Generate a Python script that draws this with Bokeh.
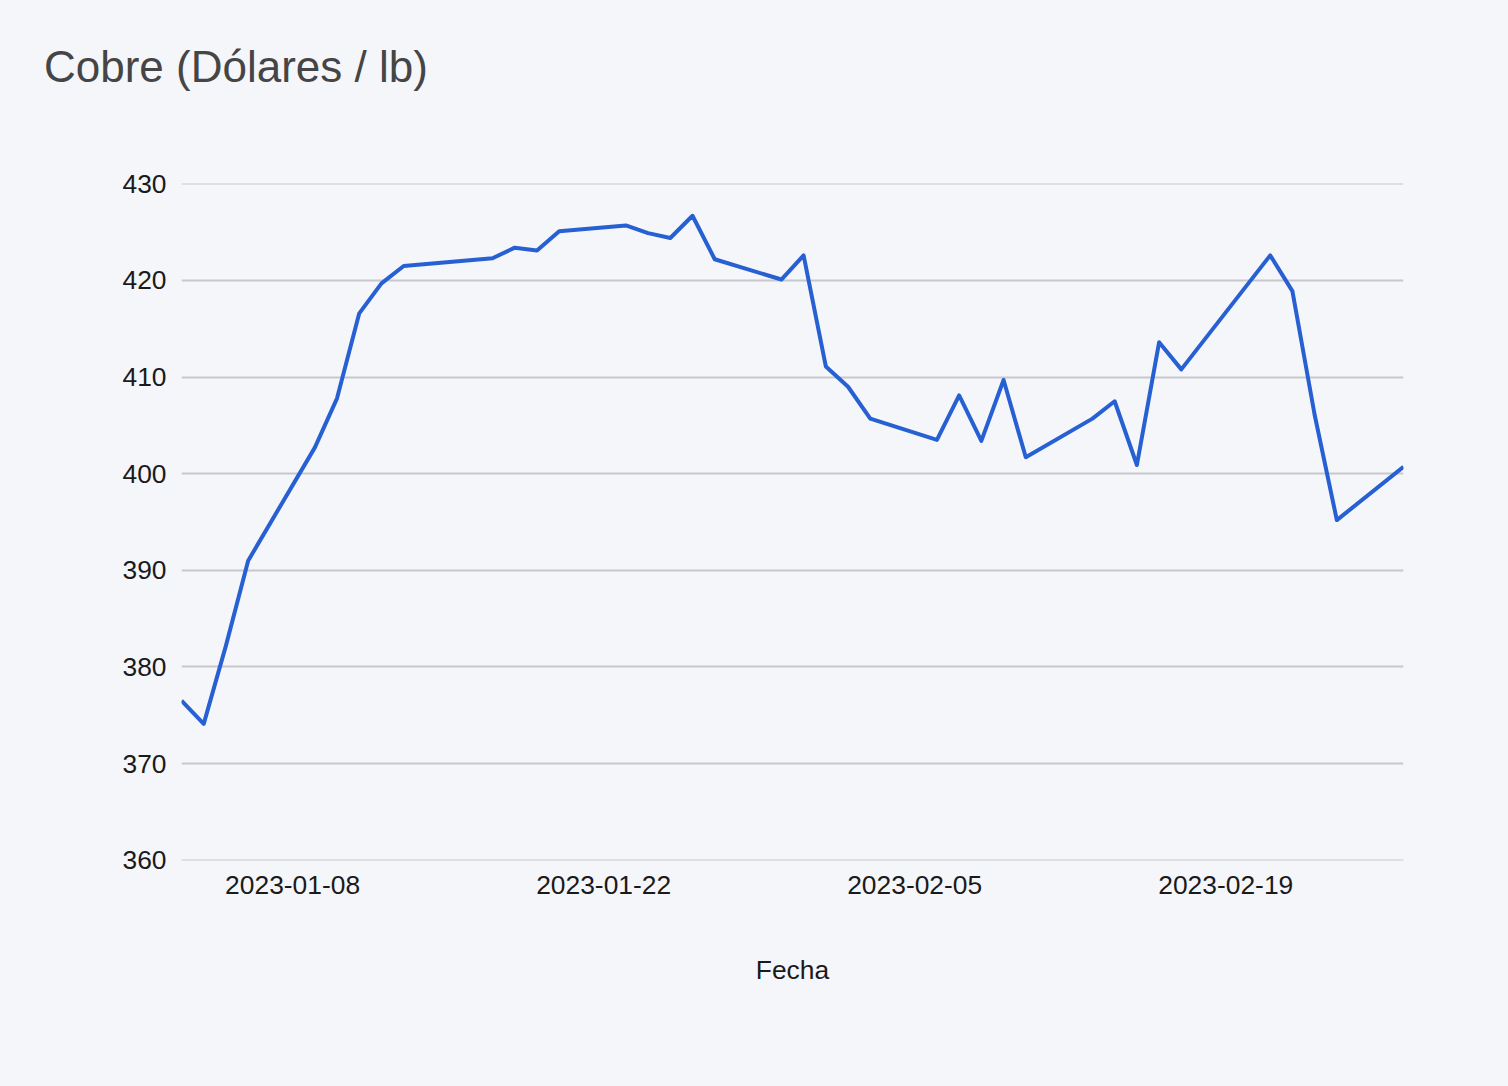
from datetime import datetime
from bokeh.plotting import figure
from bokeh.layouts import column
from bokeh.models import Range1d, FixedTicker, DatetimeTickFormatter, ColumnDataSource, Div
from bokeh.embed import file_html
from bokeh.resources import INLINE

# ---- data ----
dates = ["2023-01-03", "2023-01-04", "2023-01-05", "2023-01-06",
         "2023-01-09", "2023-01-10", "2023-01-11", "2023-01-12", "2023-01-13",
         "2023-01-17", "2023-01-18", "2023-01-19", "2023-01-20",
         "2023-01-23", "2023-01-24", "2023-01-25", "2023-01-26", "2023-01-27",
         "2023-01-30", "2023-01-31", "2023-02-01", "2023-02-02", "2023-02-03",
         "2023-02-06", "2023-02-07", "2023-02-08", "2023-02-09", "2023-02-10",
         "2023-02-13", "2023-02-14", "2023-02-15", "2023-02-16", "2023-02-17",
         "2023-02-21", "2023-02-22", "2023-02-23", "2023-02-24",
         "2023-02-27"]
values = [376.5, 374.1, 382.2, 391.0,
          402.7, 407.8, 416.6, 419.7, 421.5,
          422.3, 423.4, 423.1, 425.1,
          425.7, 424.9, 424.4, 426.7, 422.2,
          420.1, 422.6, 411.1, 409.0, 405.7,
          403.5, 408.1, 403.4, 409.7, 401.7,
          405.7, 407.5, 400.9, 413.6, 410.8,
          422.6, 418.9, 406.1, 395.2,
          400.7]
x_ticks = ["2023-01-08", "2023-01-22", "2023-02-05", "2023-02-19"]
y_ticks = [360, 370, 380, 390, 400, 410, 420, 430]
title_text = "Cobre (Dólares / lb)"
x_label = "Fecha"

def to_ms(s):
    return datetime.strptime(s, "%Y-%m-%d").timestamp() * 1000.0

xs = [datetime.strptime(d, "%Y-%m-%d") for d in dates]
src = ColumnDataSource(dict(x=xs, y=values))

BG = "#f5f6fa"
FONT = "Liberation Sans"
TXT = "#1a1a1a"

TITLE_H = 100
p = figure(width=1508, height=1086 - TITLE_H, output_backend="svg", toolbar_location=None,
           x_axis_type="datetime",
           x_range=Range1d(to_ms(dates[0]), to_ms(dates[-1])),
           y_range=Range1d(y_ticks[0] - 0.04, y_ticks[-1] + 0.04),
           min_border_left=181, min_border_right=105,
           min_border_top=183 - TITLE_H, min_border_bottom=226,
           margin=(0, 0, 0, 0))

p.background_fill_color = BG
p.border_fill_color = BG
p.outline_line_color = None

p.line("x", "y", source=src, line_color="#2660d3", line_width=4, line_join="round")

# axes
p.xaxis.ticker = FixedTicker(ticks=[to_ms(t) for t in x_ticks])
p.xaxis.formatter = DatetimeTickFormatter(days="%Y-%m-%d", months="%Y-%m-%d")
p.yaxis.ticker = FixedTicker(ticks=y_ticks)
for ax in (p.xaxis[0], p.yaxis[0]):
    ax.axis_line_color = None
    ax.major_tick_line_color = None
    ax.minor_tick_line_color = None
    ax.major_tick_out = 0
    ax.major_tick_in = 0
    ax.minor_tick_out = 0
    ax.minor_tick_in = 0
    ax.major_label_text_font = FONT
    ax.major_label_text_font_size = "26.4px"
    ax.major_label_text_color = TXT

p.xaxis.major_label_standoff = 15
p.yaxis.major_label_standoff = 15
p.xaxis.axis_label = x_label
p.xaxis.axis_label_text_font = FONT
p.xaxis.axis_label_text_font_size = "26.4px"
p.xaxis.axis_label_text_font_style = "normal"
p.xaxis.axis_label_text_color = TXT
p.xaxis.axis_label_standoff = 58

p.xgrid.grid_line_color = None
p.ygrid.ticker = FixedTicker(ticks=y_ticks)
p.ygrid.grid_line_color = "#c8c8cc"
p.ygrid.grid_line_width = 2

title = Div(
    text=('<div style="font-family:\'Liberation Sans\';font-size:44px;line-height:44px;'
          'color:#454545;padding:45px 0 0 44px;white-space:nowrap;">' + title_text + '</div>'),
    width=1508, height=TITLE_H, margin=(0, 0, 0, 0),
    styles={"background-color": BG})

layout = column(title, p, spacing=0, margin=(0, 0, 0, 0), styles={"background-color": BG})

open("out.html", "w").write(file_html(layout, INLINE))
